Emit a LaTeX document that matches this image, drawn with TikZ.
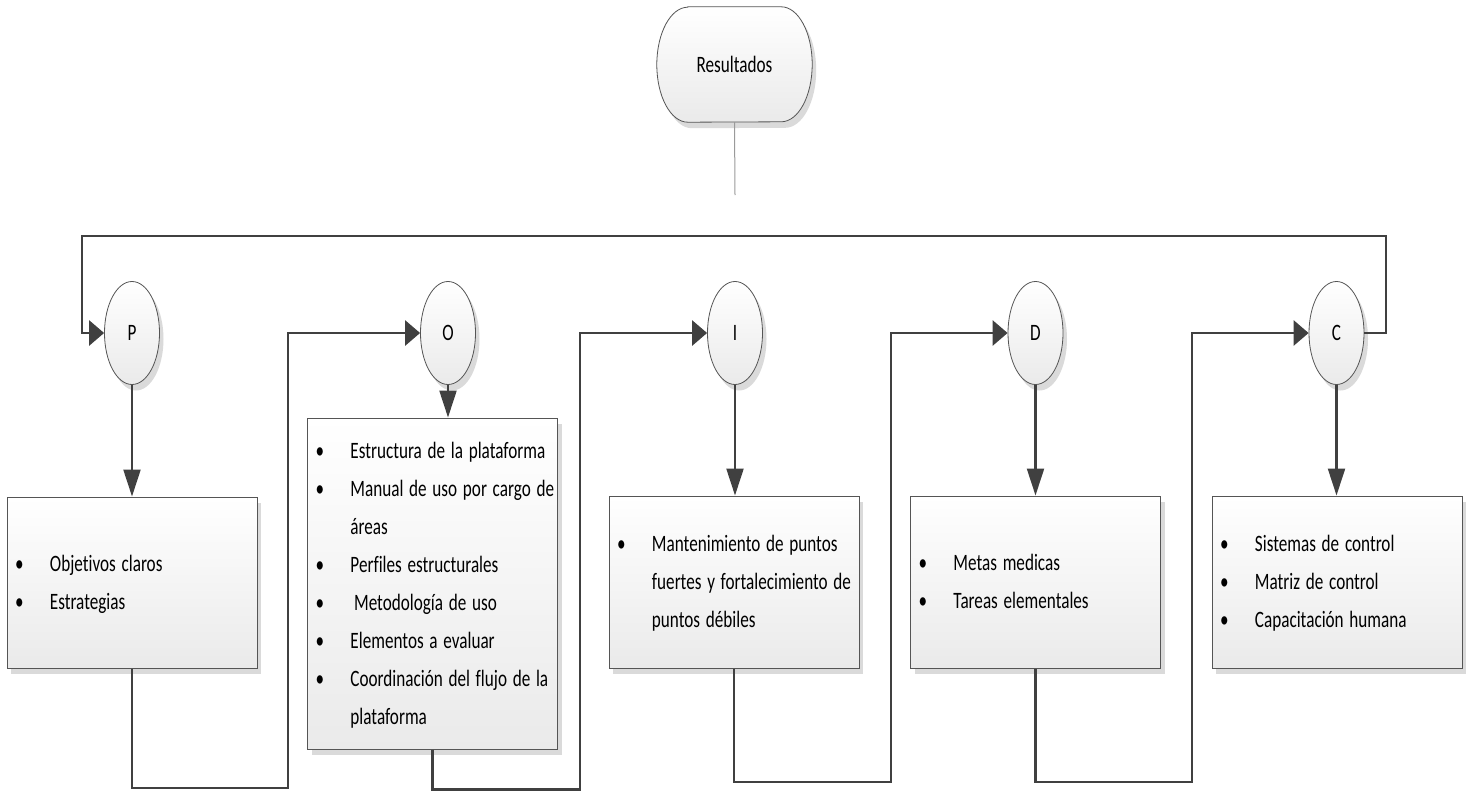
\documentclass[tikz,border=0pt]{standalone}
\usepackage{graphicx}
\usepackage{fontspec}
\setmainfont{Carlito}[Ligatures=NoCommon]
\usetikzlibrary{shapes.geometric,shadows,arrows.meta}

\definecolor{linegray}{HTML}{404040}
\definecolor{edgegray}{HTML}{555555}
\definecolor{fillbottom}{HTML}{EAEAEA}
\definecolor{shadowgray}{HTML}{DADADA}
\definecolor{stemgray}{HTML}{9A9A9A}

\pgfdeclarelayer{paper}
\pgfdeclarelayer{under}
\pgfsetlayers{paper,under,main}

% narrow lettering: horizontally condensed Carlito
\newcommand{\cond}[1]{\scalebox{0.73}[1]{#1}}
\newcommand{\bitems}[1]{\cond{\begin{tabular}{@{}p{47.9pt}@{}l@{}}#1\end{tabular}}}

\tikzset{
  x=1pt, y=-1pt,
  htip/.tip={Triangle[length=15pt,width=25pt]},
  vtip/.tip={Triangle[length=27pt,width=17pt]},
  softshadow/.style={drop shadow={shadow xshift=4pt, shadow yshift=-6pt, fill=shadowgray, opacity=1}},
  txt/.style={font=\fontsize{23.5}{38}\selectfont, text=black},
  stepnode/.style={ellipse, txt, draw=edgegray, line width=0.8pt,
    minimum width=55pt, minimum height=103pt, inner sep=0pt,
    top color=white, bottom color=fillbottom, softshadow},
  listbox/.style={rectangle, txt, draw=edgegray, line width=1pt,
    top color=white, bottom color=fillbottom, softshadow,
    inner xsep=8pt, inner ysep=0pt, align=left, text width=234pt},
  conn/.style={draw=linegray, line width=2.8pt},
  stem/.style={draw=stemgray, line width=1pt},
}

\begin{document}
\begin{tikzpicture}
  \begin{pgfonlayer}{paper}
    \fill[white] (0,0) rectangle (1470,790);
  \end{pgfonlayer}
  \useasboundingbox (0,0) rectangle (1470,790);

  % start / end node with elliptic ends
  \node[txt, minimum width=155pt, minimum height=115pt, inner sep=0pt] (res) at (734.5,64.5) {\cond{Resultados}};
  \begin{pgfonlayer}{under}
    \path[draw=edgegray, line width=0.8pt, top color=white, bottom color=fillbottom, softshadow]
      ([xshift=31pt]res.north west) -- ([xshift=-31pt]res.north east)
      arc[start angle=90, end angle=-90, x radius=31pt, y radius=57.5pt]
      -- ([xshift=31pt]res.south west)
      arc[start angle=270, end angle=90, x radius=31pt, y radius=57.5pt] -- cycle;
  \end{pgfonlayer}
  \coordinate (resEnd) at (735,195);
  \draw[stem] (res.south) -- (resEnd);

  % cycle stages
  \node[stepnode] (P) at (132,333) {\cond{P}};
  \node[stepnode] (O) at (448,333) {\cond{O}};
  \node[stepnode] (I) at (735,333) {\cond{I}};
  \node[stepnode] (D) at (1035.5,333) {\cond{D}};
  \node[stepnode] (C) at (1336.5,333) {\cond{C}};

  % task boxes
  \node[listbox, minimum height=171pt] (PB) at (132,582.5) {\bitems{%
    \textbullet & Objetivos claros\\
    \textbullet & Estrategias\\}};
  \node[listbox, minimum height=331pt] (OB) at (432.5,583.5) {\bitems{%
    \textbullet & Estructura de la plataforma\\
    \textbullet & Manual de uso por cargo de\\
                & áreas\\
    \textbullet & Perfiles estructurales\\
    \textbullet & \hspace{5pt}Metodología de uso\\
    \textbullet & Elementos a evaluar\\
    \textbullet & Coordinación del flujo de la\\
                & plataforma\\}};
  \node[listbox, minimum height=172pt] (IB) at (734,582) {\bitems{%
    \textbullet & Mantenimiento de puntos\\
                & fuertes y fortalecimiento de\\
                & puntos débiles\\}};
  \node[listbox, minimum height=172pt] (DB) at (1035.5,582) {\bitems{%
    \textbullet & Metas medicas\\
    \textbullet & Tareas elementales\\}};
  \node[listbox, minimum height=172pt] (CB) at (1337,582) {\bitems{%
    \textbullet & Sistemas de control\\
    \textbullet & Matriz de control\\
    \textbullet & Capacitación humana\\}};

  % stage -> box arrows
  \foreach \s/\b in {P/PB, O/OB, I/IB, D/DB, C/CB}
    \draw[conn, line width=2.2pt, -vtip] (\s.south) -- (\s.south |- \b.north);

  % box -> next stage connectors
  \coordinate (po) at (288,788);
  \coordinate (oi) at (580,789.5);
  \coordinate (id) at (891,782);
  \coordinate (dc) at (1192,782);
  \draw[conn, -htip] (PB.south) |- (po) |- (O.west);
  \draw[conn, -htip] (OB.south) |- (oi) |- (I.west);
  \draw[conn, -htip] (IB.south) |- (id) |- (D.west);
  \draw[conn, -htip] (DB.south) |- (dc) |- (C.west);

  % return loop C -> P
  \coordinate (loopR) at (1386,236);
  \coordinate (loopL) at (82,236);
  \draw[conn, -htip] (C.east) -| (loopR) -- (loopL) |- (P.west);
\end{tikzpicture}
\end{document}
